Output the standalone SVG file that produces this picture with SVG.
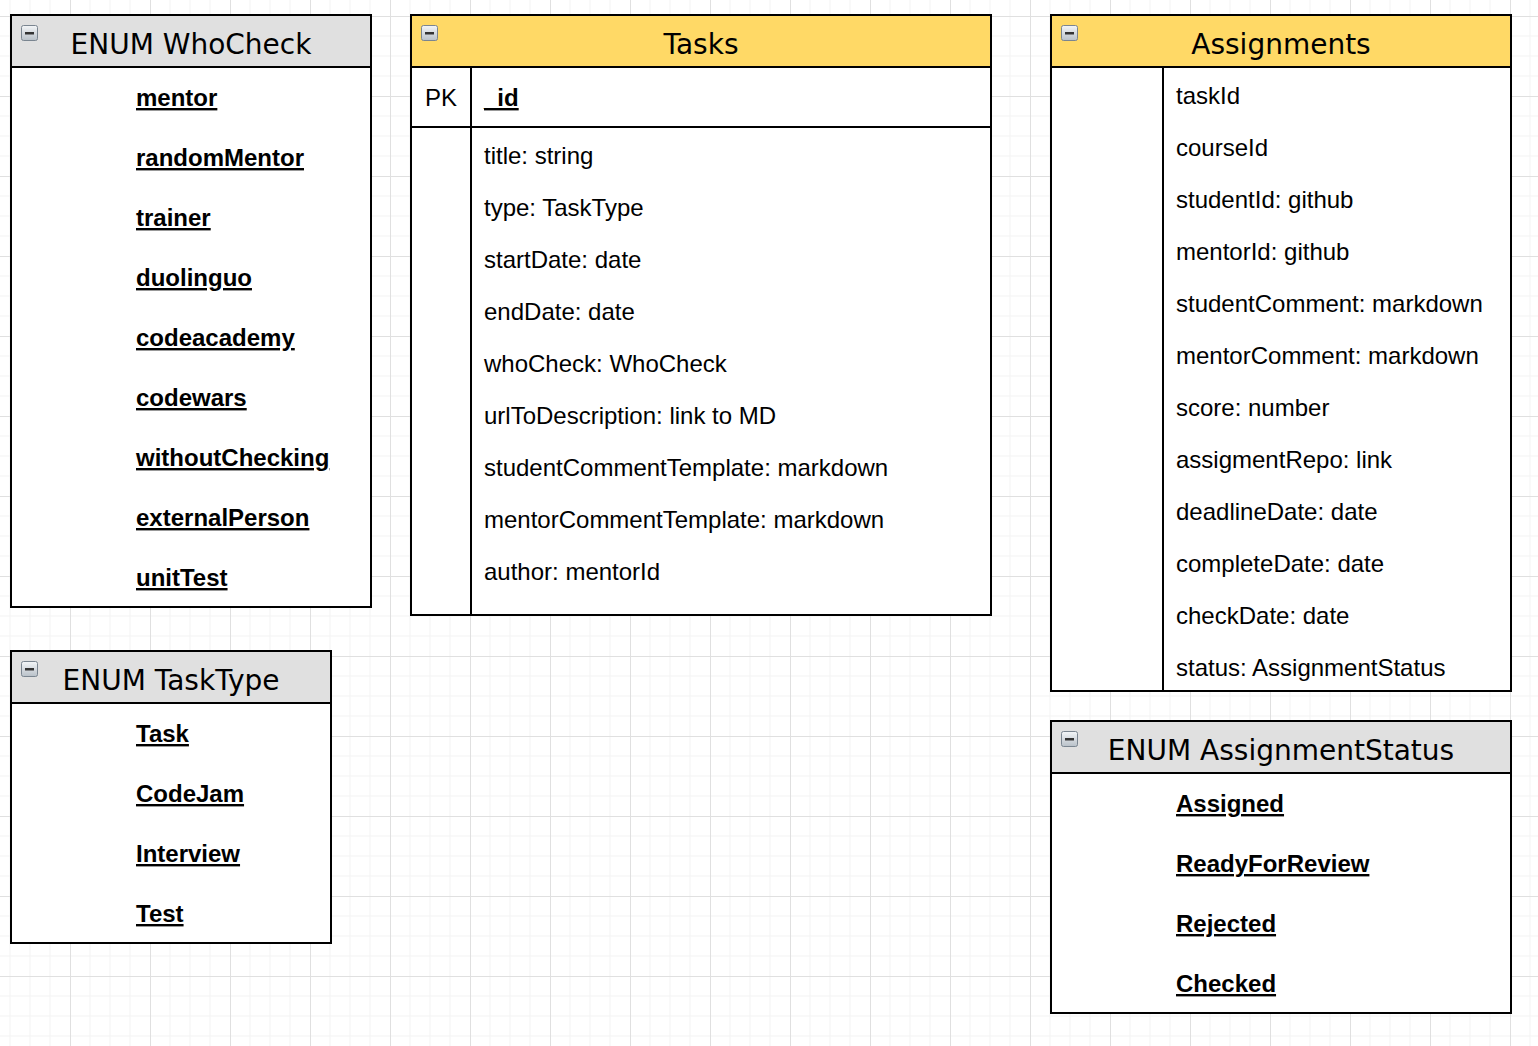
<svg xmlns="http://www.w3.org/2000/svg" width="1538" height="1046" viewBox="0 0 1538 1046">
<style>
.box{fill:#ffffff;stroke:#000;stroke-width:2}
.hg{fill:#e0e0e0;stroke:#000;stroke-width:2}
.hy{fill:#ffd966;stroke:#000;stroke-width:2}
.ln{stroke:#000;stroke-width:2;fill:none}
.title{font-family:"DejaVu Sans",sans-serif;font-size:28px;fill:#000;text-anchor:middle}
.f{font-family:"Liberation Sans",Arial,sans-serif;font-size:24px;fill:#000}
.e{font-family:"Liberation Sans",Arial,sans-serif;font-size:24px;font-weight:bold;fill:#000;text-decoration:underline}
</style>
<defs>
<pattern id="grid" patternUnits="userSpaceOnUse" x="70" y="16" width="80" height="80">
<path d="M20 0V80M40 0V80M60 0V80M0 20H80M0 40H80M0 60H80" stroke="#f3f3f3" stroke-width="1" fill="none"/>
<path d="M0.5 0V80M0 0.5H80" stroke="#e0e0e0" stroke-width="1" fill="none"/>
</pattern>
<linearGradient id="ig" x1="0" y1="0" x2="0" y2="1">
<stop offset="0" stop-color="#f4f6f8"/>
<stop offset="1" stop-color="#b8c0c8"/>
</linearGradient>
<g id="icon">
<rect x="0.5" y="0.5" width="16" height="15" rx="2" fill="url(#ig)" stroke="#7a8590"/>
<rect x="4" y="7" width="9" height="2.5" fill="#333"/>
</g>
</defs>
<rect width="1538" height="1046" fill="#ffffff"/>
<rect width="1538" height="1046" fill="url(#grid)"/>

<g id="whocheck">
<rect class="box" x="11" y="15" width="360" height="592"/>
<rect class="hg" x="11" y="15" width="360" height="52"/>
<use href="#icon" x="21" y="25"/>
<text class="title" x="191" y="54">ENUM WhoCheck</text>
<text class="e" x="136" y="106">mentor</text>
<text class="e" x="136" y="166">randomMentor</text>
<text class="e" x="136" y="226">trainer</text>
<text class="e" x="136" y="286">duolinguo</text>
<text class="e" x="136" y="346">codeacademy</text>
<text class="e" x="136" y="406">codewars</text>
<text class="e" x="136" y="466">withoutChecking</text>
<text class="e" x="136" y="526">externalPerson</text>
<text class="e" x="136" y="586">unitTest</text>
</g>

<g id="tasktype">
<rect class="box" x="11" y="651" width="320" height="292"/>
<rect class="hg" x="11" y="651" width="320" height="52"/>
<use href="#icon" x="21" y="661"/>
<text class="title" x="171" y="690">ENUM TaskType</text>
<text class="e" x="136" y="742">Task</text>
<text class="e" x="136" y="802">CodeJam</text>
<text class="e" x="136" y="862">Interview</text>
<text class="e" x="136" y="922">Test</text>
</g>

<g id="tasks">
<rect class="box" x="411" y="15" width="580" height="600"/>
<rect class="hy" x="411" y="15" width="580" height="52"/>
<use href="#icon" x="421" y="25"/>
<text class="title" x="701" y="54">Tasks</text>
<line class="ln" x1="411" y1="127" x2="991" y2="127"/>
<line class="ln" x1="471" y1="67" x2="471" y2="615"/>
<text class="f" x="425" y="106">PK</text>
<text class="e" x="484" y="106">_id</text>
<text class="f" x="484" y="164">title: string</text>
<text class="f" x="484" y="216">type: TaskType</text>
<text class="f" x="484" y="268">startDate: date</text>
<text class="f" x="484" y="320">endDate: date</text>
<text class="f" x="484" y="372">whoCheck: WhoCheck</text>
<text class="f" x="484" y="424">urlToDescription: link to MD</text>
<text class="f" x="484" y="476">studentCommentTemplate: markdown</text>
<text class="f" x="484" y="528">mentorCommentTemplate: markdown</text>
<text class="f" x="484" y="580">author: mentorId</text>
</g>

<g id="assignments">
<rect class="box" x="1051" y="15" width="460" height="676"/>
<rect class="hy" x="1051" y="15" width="460" height="52"/>
<use href="#icon" x="1061" y="25"/>
<text class="title" x="1281" y="54">Assignments</text>
<line class="ln" x1="1163" y1="67" x2="1163" y2="691"/>
<text class="f" x="1176" y="104">taskId</text>
<text class="f" x="1176" y="156">courseId</text>
<text class="f" x="1176" y="208">studentId: github</text>
<text class="f" x="1176" y="260">mentorId: github</text>
<text class="f" x="1176" y="312">studentComment: markdown</text>
<text class="f" x="1176" y="364">mentorComment: markdown</text>
<text class="f" x="1176" y="416">score: number</text>
<text class="f" x="1176" y="468">assigmentRepo: link</text>
<text class="f" x="1176" y="520">deadlineDate: date</text>
<text class="f" x="1176" y="572">completeDate: date</text>
<text class="f" x="1176" y="624">checkDate: date</text>
<text class="f" x="1176" y="676">status: AssignmentStatus</text>
</g>

<g id="assignmentstatus">
<rect class="box" x="1051" y="721" width="460" height="292"/>
<rect class="hg" x="1051" y="721" width="460" height="52"/>
<use href="#icon" x="1061" y="731"/>
<text class="title" x="1281" y="760">ENUM AssignmentStatus</text>
<text class="e" x="1176" y="812">Assigned</text>
<text class="e" x="1176" y="872">ReadyForReview</text>
<text class="e" x="1176" y="932">Rejected</text>
<text class="e" x="1176" y="992">Checked</text>
</g>

<g id="connectors"></g>
</svg>
